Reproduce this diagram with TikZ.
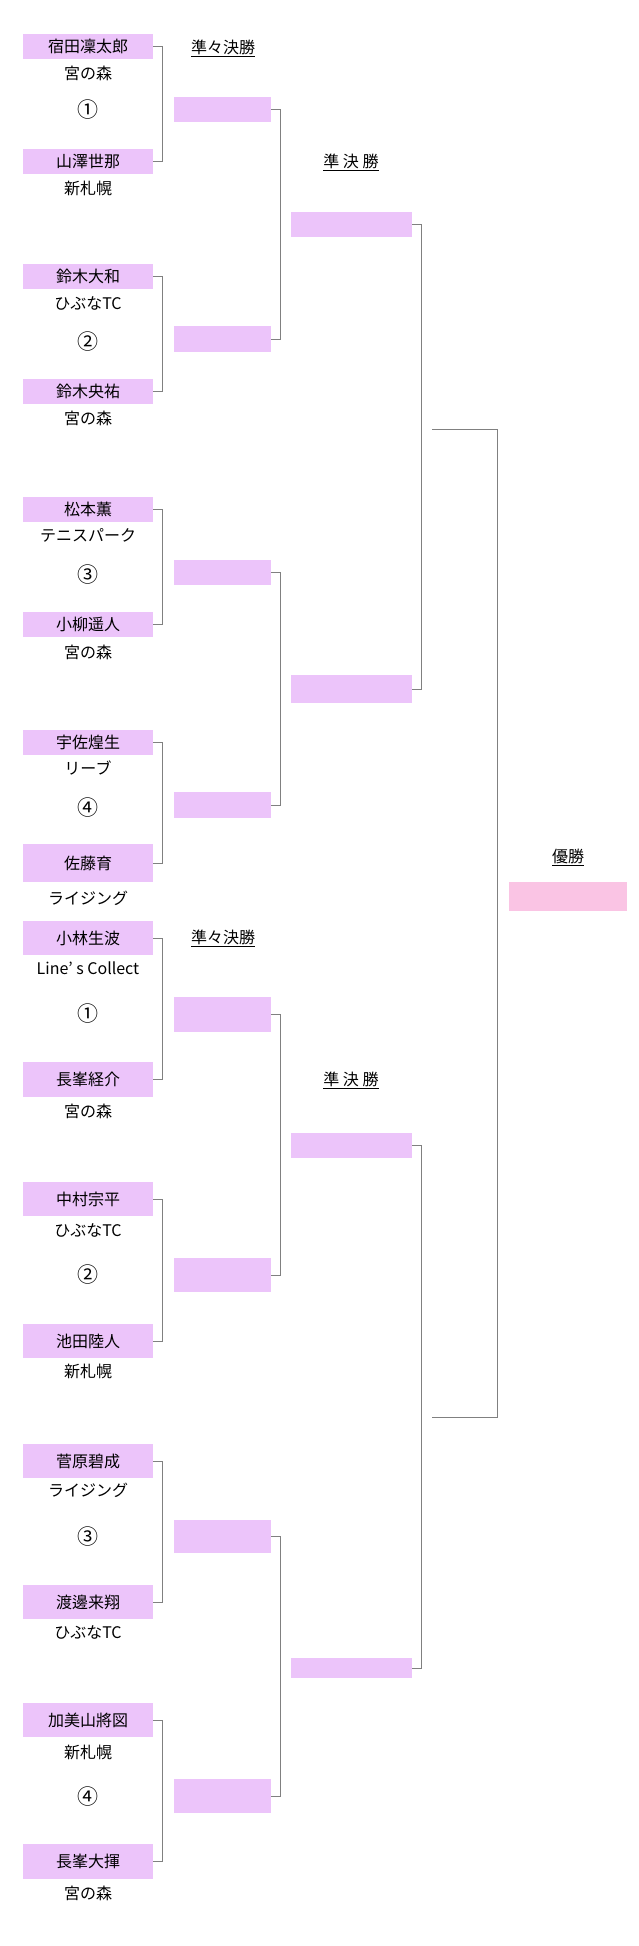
\documentclass[tikz,border=0pt]{standalone}
\usepackage{fontspec}
\setmainfont{Noto Sans CJK JP}
\usetikzlibrary{calc}
\definecolor{boxviolet}{RGB}{236,196,250}
\definecolor{boxpink}{RGB}{250,196,228}
\definecolor{linegray}{RGB}{128,128,128}

\begin{document}
\begin{tikzpicture}[x=1pt,y=-1pt,
    every node/.style={font=\fontsize{16}{18}\selectfont, inner sep=0pt},
    player/.style={fill=boxviolet, minimum width=130pt, minimum height=25pt},
    matchno/.style={font=\fontsize{21}{22}\selectfont},
    qfbox/.style={fill=boxviolet, minimum width=97pt, minimum height=25pt},
    sfbox/.style={fill=boxviolet, minimum width=121pt, minimum height=25pt},
    conn/.style={linegray, line width=1pt}]
    \useasboundingbox (0,0) rectangle (638,1946);
    % first block
    \node[player] (p1) at (88,46) {宿田凜太郎};
    \node (c1) at (88,73) {宮の森};
    \node[matchno] (m1) at (88,110) {①};
    \node[player] (p2) at (88,161) {山澤世那};
    \node (c2) at (88,188) {新札幌};
    \node[player] (p3) at (88,276) {鈴木大和};
    \node (c3) at (88,303) {ひぶなTC};
    \node[matchno] (m2) at (88,342) {②};
    \node[player] (p4) at (88,391) {鈴木央祐};
    \node (c4) at (88,418) {宮の森};
    \node[player] (p5) at (88,509) {松本薫};
    \node (c5) at (88,535) {テニスパーク};
    \node[matchno] (m3) at (88,575) {③};
    \node[player] (p6) at (88,624) {小柳遥人};
    \node (c6) at (88,652) {宮の森};
    \node[player] (p7) at (88,742) {宇佐煌生};
    \node (c7) at (88,768) {リーブ};
    \node[matchno] (m4) at (88,808) {④};
    \node[player, minimum height=38pt] (p8) at (88,863) {佐藤育};
    \node (c8) at (88,898) {ライジング};
    % second block
    \node[player, minimum height=34pt] (p9) at (88,938) {小林生波};
    \node (c9) at (88,968) {Line{\char"0027} s Collect};
    \node[matchno] (m5) at (88,1014) {①};
    \node[player, minimum height=35pt] (p10) at (88,1079) {長峯経介};
    \node (c10) at (88,1111) {宮の森};
    \node[player, minimum height=34pt] (p11) at (88,1199) {中村宗平};
    \node (c11) at (88,1230) {ひぶなTC};
    \node[matchno] (m6) at (88,1275) {②};
    \node[player, minimum height=34pt] (p12) at (88,1341) {池田陸人};
    \node (c12) at (88,1371) {新札幌};
    \node[player, minimum height=34pt] (p13) at (88,1461) {菅原碧成};
    \node (c13) at (88,1490) {ライジング};
    \node[matchno] (m7) at (88,1537) {③};
    \node[player, minimum height=34pt] (p14) at (88,1602) {渡邊来翔};
    \node (c14) at (88,1632) {ひぶなTC};
    \node[player, minimum height=34pt] (p15) at (88,1720) {加美山將図};
    \node (c15) at (88,1752) {新札幌};
    \node[matchno] (m8) at (88,1796) {④};
    \node[player, minimum height=35pt] (p16) at (88,1861) {長峯大揮};
    \node (c16) at (88,1893) {宮の森};
    % round titles
    \node (qt1) at (223,48) {\underline{準々決勝}};
    \node (qt2) at (223,938) {\underline{準々決勝}};
    \node (st1) at (351,162) {\underline{準 決 勝}};
    \node (st2) at (351,1080) {\underline{準 決 勝}};
    \node (ft) at (568,857) {\underline{優勝}};
    % quarter finals
    \node[qfbox] (q1) at (222.5,109.5) {};
    \node[qfbox, minimum height=26pt] (q2) at (222.5,339) {};
    \node[qfbox] (q3) at (222.5,572.5) {};
    \node[qfbox, minimum height=26pt] (q4) at (222.5,805) {};
    \node[qfbox, minimum height=35pt] (q5) at (222.5,1014.5) {};
    \node[qfbox, minimum height=34pt] (q6) at (222.5,1275) {};
    \node[qfbox, minimum height=33pt] (q7) at (222.5,1536.5) {};
    \node[qfbox, minimum height=34pt] (q8) at (222.5,1796) {};
    % semi finals
    \node[sfbox] (s1) at (351.5,224.5) {};
    \node[sfbox, minimum height=28pt] (s2) at (351.5,689) {};
    \node[sfbox] (s3) at (351.5,1145) {};
    \node[sfbox, minimum height=20pt] (s4) at (351.5,1668) {};
    % final
    \node[fill=boxpink, minimum width=118pt, minimum height=29pt] (fb) at (568,896.5) {};
    \coordinate (f1) at (432,429);
    \coordinate (f2) at (432,1417);
    % brackets
    \draw[conn] (p1.east) -- ++(9,0) |- (p2.east);
    \draw[conn] (p3.east) -- ++(9,0) |- (p4.east);
    \draw[conn] (p5.east) -- ++(9,0) |- (p6.east);
    \draw[conn] (p7.east) -- ++(9,0) |- (p8.east);
    \draw[conn] (p9.east) -- ++(9,0) |- (p10.east);
    \draw[conn] (p11.east) -- ++(9,0) |- (p12.east);
    \draw[conn] (p13.east) -- ++(9,0) |- (p14.east);
    \draw[conn] (p15.east) -- ++(9,0) |- (p16.east);
    \draw[conn] (q1.east) -- ++(9,0) |- (q2.east);
    \draw[conn] (q3.east) -- ++(9,0) |- (q4.east);
    \draw[conn] (q5.east) -- ++(9,0) |- (q6.east);
    \draw[conn] (q7.east) -- ++(9,0) |- (q8.east);
    \draw[conn] (s1.east) -- ++(9,0) |- (s2.east);
    \draw[conn] (s3.east) -- ++(9,0) |- (s4.east);
    \draw[conn] (f1) -- ++(65,0) |- (f2);
\end{tikzpicture}
\end{document}
